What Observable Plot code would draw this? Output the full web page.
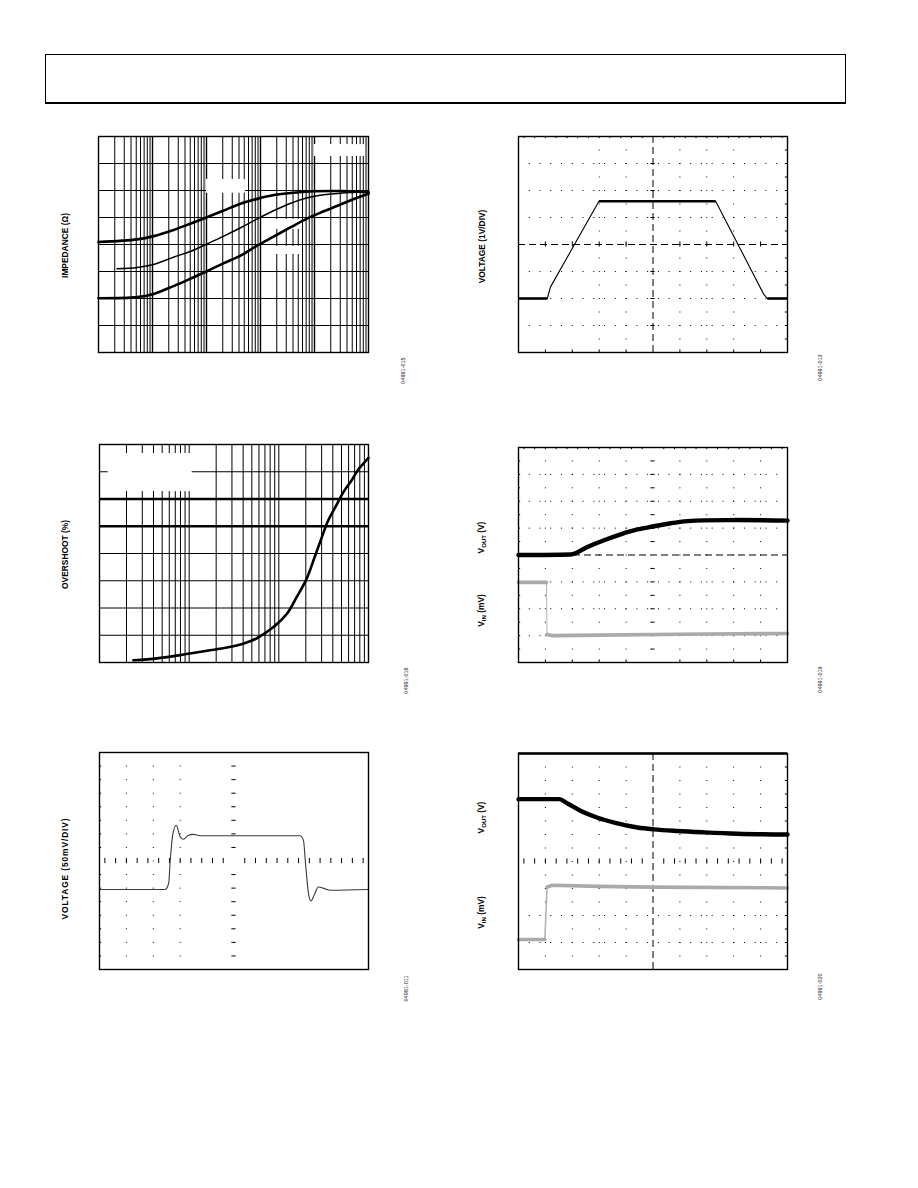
<!DOCTYPE html>
<html><head><meta charset="utf-8">
<script src="https://cdn.jsdelivr.net/npm/d3@7"></script>
<script src="https://cdn.jsdelivr.net/npm/@observablehq/plot@0.6"></script>
<style>
html,body{margin:0;padding:0;background:#fff;}
#page{position:relative;width:918px;height:1188px;overflow:hidden;background:#fff;font-family:"Liberation Sans",Arial,sans-serif;}
#header{position:absolute;left:45px;top:54px;width:801px;height:50px;box-sizing:border-box;border:1.3px solid #000;border-bottom-width:2.3px;}
#page svg{position:absolute;}
</style></head><body><div id="page"><div id="header"></div></div>
<script>
// ---------- Panel 1: impedance vs frequency (log x, three curves) ----------
const impFreqHigh = [10, 52, 105, 245, 500, 1020, 2090, 4270, 8710, 17800, 36300, 95500, 295000, 1000000];
const impHigh     = [4.09, 4.19, 4.31, 4.54, 4.77, 5.01, 5.26, 5.51, 5.69, 5.83, 5.91, 5.97, 5.98, 5.94];
const impFreqMid  = [22, 52, 105, 245, 500, 1020, 2090, 4270, 8710, 17800, 36300, 74100, 148000, 302000, 1000000];
const impMid      = [3.10, 3.15, 3.26, 3.53, 3.74, 4.02, 4.31, 4.62, 4.95, 5.26, 5.53, 5.73, 5.84, 5.90, 5.94];
const impFreqLow  = [10, 52, 105, 245, 500, 1020, 2090, 4270, 8710, 17800, 36300, 74100, 148000, 302000, 617000, 1000000];
const impLow      = [2.01, 2.05, 2.17, 2.46, 2.73, 3.01, 3.31, 3.59, 3.96, 4.30, 4.64, 4.97, 5.23, 5.48, 5.73, 5.88];
const impGridY    = [1, 2, 3, 4, 5, 6, 7];
// blank legend areas (data units)
const impBlankF1 = [100000, 1000, 18000, 18000];
const impBlankF2 = [870000, 5250, 60000, 60000];
const impBlankZ1 = [7.26, 5.9, 4.56, 3.63];
const impBlankZ2 = [7.7, 6.41, 4.93, 3.93];

// ---------- Panel 3: overshoot vs load (log x) ----------
const osLoad = [2.39, 4.37, 7.94, 15.8, 26.3, 40.7, 56.2, 87.1, 123, 158, 204, 251, 302, 355, 427, 525, 646, 776, 871, 1000];
const osPct  = [0.08, 0.15, 0.27, 0.43, 0.55, 0.70, 0.88, 1.30, 1.79, 2.40, 3.07, 3.87, 4.60, 5.21, 5.70, 6.25, 6.68, 7.10, 7.29, 7.51];
const osGridY = [1, 2, 3, 4, 7];
const osLimitY = [5, 6];
const osBlankX1 = [1.25], osBlankX2 = [10.8], osBlankY1 = [6.27], osBlankY2 = [7.67];

// ---------- Scope panels (x, y in divisions) ----------
const rampT = [0, 1.07, 1.19, 2.99, 7.33, 9.12, 9.25, 10];
const rampV = [-2, -2, -1.57, 1.6, 1.6, -1.85, -2, -2];

const p4T    = [0, 1.94, 2.56, 3.18, 3.80, 4.42, 5.04, 5.66, 6.28, 6.90, 8.14, 10];
const p4Vout = [0, 0.02, 0.30, 0.55, 0.77, 0.95, 1.07, 1.18, 1.26, 1.29, 1.30, 1.28];
const p4TIn  = [0, 1.04, 1.06, 1.25, 3, 6, 10];
const p4Vin  = [-1.02, -1.02, -2.96, -3.0, -2.98, -2.95, -2.92];

const p5T = [0, 2.44, 2.57, 2.63, 2.73, 2.85, 3.0, 3.12, 3.31, 3.49, 3.74, 7.46, 7.58, 7.67, 7.77, 7.86, 7.98, 8.14, 8.33, 8.58, 10];
const p5V = [-1.05, -1.05, -0.83, 0.03, 1.01, 1.32, 0.89, 0.80, 0.95, 0.98, 0.93, 0.93, 0.77, -0.22, -1.20, -1.47, -1.26, -0.96, -1.01, -1.08, -1.05];

const p6T    = [0, 1.51, 1.82, 2.32, 2.94, 3.56, 4.42, 5.04, 5.91, 6.90, 8.14, 10];
const p6Vout = [2.31, 2.31, 2.15, 1.87, 1.62, 1.44, 1.26, 1.19, 1.13, 1.08, 1.03, 1.00];
const p6TIn  = [0, 0.98, 1.06, 1.25, 3, 5, 10];
const p6Vin  = [-2.89, -2.89, -0.95, -0.88, -0.92, -0.95, -0.98];

const scopeX = [0, 10], scopeY = [-4, 4];
const majorX = [1, 2, 3, 4, 6, 7, 8, 9];
const majorY = [-3, -2, -1, 1, 2, 3];
const halfY = [-3.5, -3, -2.5, -2, -1.5, -1, -0.5, 0.5, 1, 1.5, 2, 2.5, 3, 3.5];
const fineX = [0.2, 0.6, 1.0, 1.4, 1.8, 2.2, 2.6, 3.0, 3.4, 3.8, 4.2, 4.6, 5.4, 5.8, 6.2, 6.6, 7.0, 7.4, 7.8, 8.2, 8.6, 9.0, 9.4, 9.8];

const page = document.getElementById("page");
const FONT = '"Liberation Sans", Arial, Helvetica, sans-serif';

function pts(xs, ys) {
  let s = 0;
  return xs.map((x, i) => {
    if (i > 0) {
      const dx = Math.abs(x - xs[i - 1]), dy = Math.abs(ys[i] - ys[i - 1]);
      if (dy > 15 * dx) s++;
    }
    return {x, y: ys[i], s};
  });
}
function pairs(xs, ys) {
  return xs.slice(1).map((x, i) => ({x1: xs[i], y1: ys[i], x2: x, y2: ys[i + 1]}));
}

function panel(p) {
  const [fx0, fy0, fx1, fy1] = p.frame;
  const fw = fx1 - fx0, fh = fy1 - fy0;
  const m = {top: 12, left: 62, right: 52, bottom: 48};
  const marks = [
    ...p.marks,
    Plot.frame({stroke: "#000", strokeWidth: 1.4}),
    ...p.labels.map(l => Plot.text([l.text], {frameAnchor: "left", dx: l.dx, dy: l.dy, rotate: -90,
      fontSize: 8.4, fontWeight: "bold", fill: "#000", textAnchor: "middle", lineAnchor: "middle", text: d => d})),
    Plot.text([p.id], {frameAnchor: "bottom-right", dx: p.idOff[0], dy: p.idOff[1], rotate: -90,
      fontSize: 5.5, fill: "#222", textAnchor: "middle", lineAnchor: "middle", text: d => d})
  ];
  const svg = Plot.plot({
    width: m.left + fw + m.right, height: m.top + fh + m.bottom,
    marginTop: m.top, marginLeft: m.left, marginRight: m.right, marginBottom: m.bottom,
    x: {...p.x, axis: null}, y: {...p.y, axis: null},
    style: {background: "transparent", overflow: "visible", fontFamily: FONT},
    marks
  });
  svg.style.left = (fx0 - m.left) + "px";
  svg.style.top = (fy0 - m.top) + "px";
  svg.style.maxWidth = "none";
  svg.querySelectorAll("text").forEach(t => {
    const lab = p.labels.find(l => l.text === t.textContent);
    if (lab && lab.ls) t.style.letterSpacing = lab.ls + "px";
    const mm = t.textContent.match(/^V(OUT|IN) (\(.*\))$/);
    if (mm) {
      t.textContent = "";
      const ns = "http://www.w3.org/2000/svg";
      const a = document.createElementNS(ns, "tspan"); a.textContent = "V";
      const b = document.createElementNS(ns, "tspan"); b.textContent = mm[1];
      b.setAttribute("font-size", "6"); b.setAttribute("dy", "2");
      const c = document.createElementNS(ns, "tspan"); c.textContent = " " + mm[2]; c.setAttribute("dy", "-2");
      t.append(a, b, c);
    }
  });
  page.appendChild(svg);
  return {fw, fh};
}

// scope graticule helpers
function dotCols(cols, fh) {
  return Plot.ruleX(cols, {stroke: "#000", strokeWidth: 1, strokeDasharray: `1,${(fh / 16 - 1).toFixed(2)}`});
}
function dotRows(rows, fw) {
  return Plot.ruleY(rows, {x1: scopeX[0], x2: scopeX[1], stroke: "#000", strokeWidth: 1, strokeDasharray: `1,${(fw / 25 - 1).toFixed(2)}`});
}
const TK = 0.08;
const crossDash = "7,4";

// ---------- Panel 1 ----------
const logTicks1 = d3.range(1, 6).flatMap(e => d3.range(1, 10).map(k => k * 10 ** e)).filter(v => v > 10 && v < 1e6);
panel({
  frame: [98, 136, 368, 352],
  x: {type: "log", domain: [10, 1e6]}, y: {domain: [0, 8]},
  labels: [{text: "IMPEDANCE (Ω)", dx: -33, dy: 1}],
  id: "04991-015", idOff: [35, 18],
  marks: [
    Plot.ruleX(logTicks1, {stroke: "#000", strokeWidth: d => (Math.log10(d) % 1 === 0 ? 1.4 : 1)}),
    Plot.ruleY(impGridY, {stroke: "#000", strokeWidth: 1}),
    Plot.rect(impBlankF1.map((f, i) => ({f1: f, f2: impBlankF2[i], z1: impBlankZ1[i], z2: impBlankZ2[i]})),
      {x1: "f1", x2: "f2", y1: "z1", y2: "z2", fill: "white"}),
    Plot.line(pts(impFreqLow, impLow), {x: "x", y: "y", curve: "catmull-rom", stroke: "#000", strokeWidth: 2.6}),
    Plot.line(pts(impFreqMid, impMid), {x: "x", y: "y", curve: "catmull-rom", stroke: "#000", strokeWidth: 1.5}),
    Plot.line(pts(impFreqHigh, impHigh), {x: "x", y: "y", curve: "catmull-rom", stroke: "#000", strokeWidth: 2.6})
  ]
});

// ---------- Panel 2 ----------
{
  const fw = 269, fh = 216;
  panel({
    frame: [518, 136, 787, 352],
    x: {domain: scopeX}, y: {domain: scopeY},
    labels: [{text: "VOLTAGE (1V/DIV)", dx: -36.5, dy: 2}],
    id: "04991-013", idOff: [33, 15],
    marks: [
      dotCols([3, 4, 6, 7, 8], fh), dotRows(majorY, fw),
      Plot.ruleX([5], {stroke: "#000", strokeWidth: 1, strokeDasharray: crossDash}),
      Plot.ruleY([0], {stroke: "#000", strokeWidth: 1, strokeDasharray: crossDash}),
      Plot.ruleY(majorY, {x1: 5 - TK, x2: 5 + TK, stroke: "#000"}),
      Plot.ruleX(majorX, {y1: -TK * 1.2, y2: TK * 1.2, stroke: "#000"}),
      Plot.ruleY(halfY, {x1: scopeX[1] - TK, x2: scopeX[1], stroke: "#000"}),
      Plot.ruleX(majorX, {y1: scopeY[0], y2: scopeY[0] + TK * 1.2, stroke: "#000"}),
      Plot.ruleX(fineX, {y1: scopeY[1] - TK, y2: scopeY[1], stroke: "#000"}),
      Plot.line(pts(rampT, rampV), {x: "x", y: "y", stroke: "#000", strokeWidth: 1.1}),
      Plot.link(pairs(rampT, rampV).filter(d => d.y1 === d.y2), {x1: "x1", y1: "y1", x2: "x2", y2: "y2", stroke: "#000", strokeWidth: 2.6})
    ]
  });
}

// ---------- Panel 3 ----------
const logTicks3 = d3.range(0, 3).flatMap(e => d3.range(1, 10).map(k => k * 10 ** e)).filter(v => v > 1 && v < 1000);
panel({
  frame: [99, 444, 368, 662],
  x: {type: "log", domain: [1, 1000]}, y: {domain: [0, 8]},
  labels: [{text: "OVERSHOOT (%)", dx: -34, dy: 1}],
  id: "04991-016", idOff: [38, 18],
  marks: [
    Plot.ruleX(logTicks3, {stroke: "#000", strokeWidth: 1}),
    Plot.ruleY(osGridY, {stroke: "#000", strokeWidth: 1}),
    Plot.rect(osBlankX1.map((v, i) => ({a: v, b: osBlankX2[i], c: osBlankY1[i], d: osBlankY2[i]})),
      {x1: "a", x2: "b", y1: "c", y2: "d", fill: "white"}),
    Plot.ruleY(osLimitY, {stroke: "#000", strokeWidth: 2.4}),
    Plot.line(pts(osLoad, osPct), {x: "x", y: "y", curve: "catmull-rom", stroke: "#000", strokeWidth: 2.6})
  ]
});

// ---------- Panel 4 ----------
{
  const fw = 269, fh = 215;
  panel({
    frame: [518, 447, 787, 662],
    x: {domain: scopeX}, y: {domain: scopeY},
    labels: [{text: "VOUT (V)", dx: -37, dy: -17.5}, {text: "VIN (mV)", dx: -37, dy: 55.5}],
    id: "04991-019", idOff: [33, 17],
    marks: [
      dotCols(majorX, fh), dotRows(majorY, fw),
      Plot.ruleY(halfY, {x1: 5 - TK, x2: 5 + TK, stroke: "#000"}),
      Plot.ruleY([0], {stroke: "#000", strokeWidth: 1, strokeDasharray: crossDash}),
      Plot.ruleY(halfY, {x1: scopeX[0], x2: scopeX[0] + TK, stroke: "#000"}),
      Plot.ruleX(majorX, {y1: scopeY[0], y2: scopeY[0] + TK * 1.2, stroke: "#000"}),
      Plot.ruleX(fineX, {y1: scopeY[1] - TK, y2: scopeY[1], stroke: "#000"}),
      Plot.line(pts(p4TIn, p4Vin), {x: "x", y: "y", stroke: "#b4b4b4", strokeWidth: 1}),
      Plot.line(pts(p4TIn, p4Vin), {x: "x", y: "y", z: "s", stroke: "#aaaaaa", strokeWidth: 3.6}),
      Plot.line(pts(p4T, p4Vout), {x: "x", y: "y", curve: "monotone-x", stroke: "#000", strokeWidth: 4.4})
    ]
  });
}

// ---------- Panel 5 ----------
{
  const fw = 269, fh = 217;
  panel({
    frame: [99, 752, 368, 969],
    x: {domain: scopeX}, y: {domain: scopeY},
    labels: [{text: "VOLTAGE (50mV/DIV)", dx: -34, dy: 7.5, ls: 0.9}],
    id: "04991-011", idOff: [38, 19],
    marks: [
      dotCols([1, 2, 3], fh),
      Plot.ruleY(halfY, {x1: 5 - TK, x2: 5 + TK, stroke: "#000"}),
      Plot.ruleX(fineX, {y1: -TK * 1.2, y2: TK * 1.2, stroke: "#000"}),
      Plot.ruleY(halfY, {x1: scopeX[0], x2: scopeX[0] + TK, stroke: "#000"}),
      Plot.line(pts(p5T, p5V), {x: "x", y: "y", curve: "monotone-x", stroke: "#3a3a3a", strokeWidth: 1.1})
    ]
  });
}

// ---------- Panel 6 ----------
{
  const fw = 269, fh = 216;
  panel({
    frame: [518, 753, 787, 969],
    x: {domain: scopeX}, y: {domain: scopeY},
    labels: [{text: "VOUT (V)", dx: -37, dy: -44}, {text: "VIN (mV)", dx: -37, dy: 51}],
    id: "04991-020", idOff: [33, 17],
    marks: [
      dotCols(majorX, fh), dotRows([-3, -2], fw),
      Plot.ruleX([5], {stroke: "#000", strokeWidth: 1, strokeDasharray: crossDash}),
      Plot.ruleX(fineX, {y1: -TK * 1.2, y2: TK * 1.2, stroke: "#000"}),
      Plot.ruleY(halfY, {x1: scopeX[1] - TK, x2: scopeX[1], stroke: "#000"}),
      Plot.ruleY([scopeY[1]], {stroke: "#000", strokeWidth: 2.6}),
      Plot.line(pts(p6TIn, p6Vin), {x: "x", y: "y", stroke: "#b4b4b4", strokeWidth: 1.6}),
      Plot.line(pts(p6TIn, p6Vin), {x: "x", y: "y", z: "s", stroke: "#aaaaaa", strokeWidth: 3.6}),
      Plot.line(pts(p6T, p6Vout), {x: "x", y: "y", curve: "monotone-x", stroke: "#000", strokeWidth: 4.4})
    ]
  });
}
</script></body></html>
